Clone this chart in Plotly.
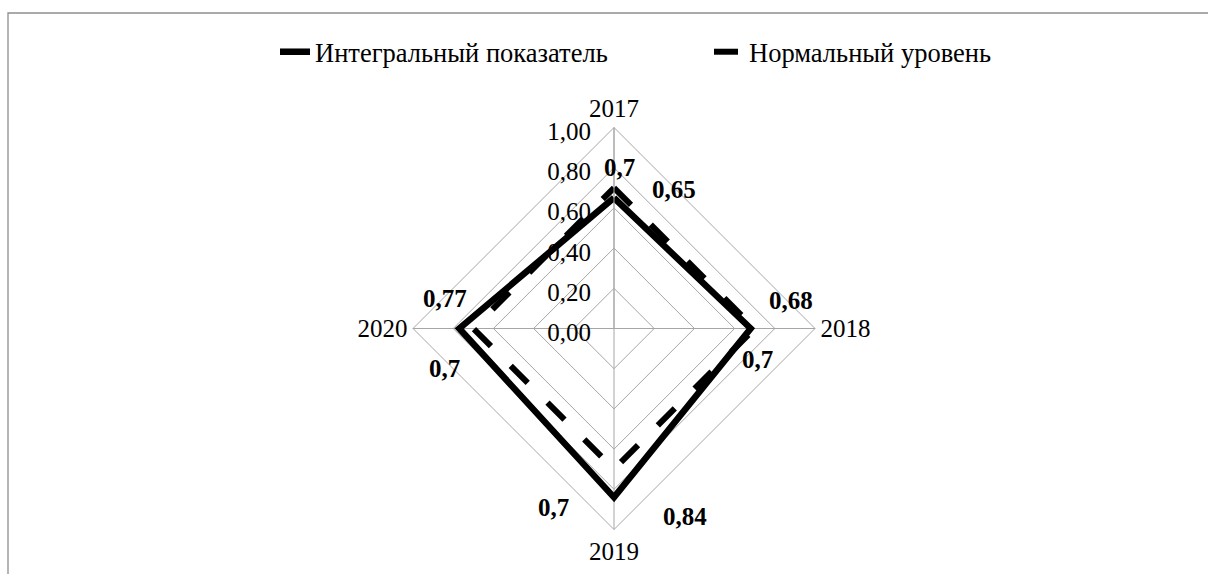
import math
import plotly.graph_objects as go

# Years on the radar axes (clockwise from the top)
years = ["2017", "2018", "2019", "2020"]
# Integral indicator per year
integral = [0.65, 0.68, 0.84, 0.77]
# Normal (reference) level
normal = [0.7, 0.7, 0.7, 0.7]
# Radial tick values
radial_ticks = [0.0, 0.2, 0.4, 0.6, 0.8, 1.0]

W, H = 1208, 574
CX, CY, R = 614, 328.5, 201  # polar centre and outer radius in px

FONT = "'Liberation Serif', 'Times New Roman', serif"
GRID = "#a6a6a6"

fig = go.Figure()

closed = years + years[:1]
fig.add_trace(go.Scatterpolar(
    r=integral + integral[:1], theta=closed, mode="lines",
    name="Интегральный показатель",
    line=dict(color="black", width=6.5),
))
fig.add_trace(go.Scatterpolar(
    r=normal + normal[:1], theta=closed, mode="lines",
    name="Нормальный уровень",
    line=dict(color="black", width=6, dash="24px,28px"),
))

# Data labels, anchored to each vertex and nudged by a pixel offset
angles = {"2017": 90, "2018": 0, "2019": -90, "2020": 180}


def vertex(year, value):
    a = math.radians(angles[year])
    px = CX + R * value * math.cos(a)
    py = CY - R * value * math.sin(a)
    return px / W, 1 - py / H


integral_offsets = [(60, -8), (40, -28), (71, 19), (-14, -30)]
normal_offsets = [(5, -20), (3, 31), (-61, 38), (-29, 40)]

annotations = []
for vals, offs in ((integral, integral_offsets), (normal, normal_offsets)):
    for year, v, (dx, dy) in zip(years, vals, offs):
        x, y = vertex(year, v)
        annotations.append(dict(
            x=x, y=y, xref="paper", yref="paper",
            text="<b>" + f"{v:g}".replace(".", ",") + "</b>",
            showarrow=False, xshift=dx, yshift=-dy,
            font=dict(family=FONT, size=25, color="black"),
            xanchor="center", yanchor="middle",
        ))

fig.update_layout(
    width=W, height=H,
    margin=dict(l=0, r=0, t=0, b=0),
    paper_bgcolor="white",
    plot_bgcolor="white",
    separators=", ",
    font=dict(family=FONT, size=25, color="black"),
    polar=dict(
        domain=dict(x=[(CX - R) / W, (CX + R) / W],
                    y=[(H - CY - R) / H, (H - CY + R) / H]),
        bgcolor="white",
        gridshape="linear",
        angularaxis=dict(
            type="category", rotation=90, direction="clockwise",
            showline=True, linecolor=GRID, linewidth=1,
            gridcolor=GRID, gridwidth=1, ticks="",
            tickfont=dict(family=FONT, size=25, color="black"),
        ),
        radialaxis=dict(
            range=[0, 1], tickvals=radial_ticks, tickformat=".2f",
            angle=90, side="counterclockwise",
            showline=True, linecolor=GRID, linewidth=1,
            gridcolor=GRID, gridwidth=1, ticks="",
            tickfont=dict(family=FONT, size=25, color="black"),
        ),
    ),
    legend=dict(
        orientation="h", x=275 / W, xanchor="left",
        y=1 - 28 / H, yanchor="top",
        font=dict(family=FONT, size=26.5, color="black"),
        entrywidth=389, bgcolor="rgba(0,0,0,0)",
    ),
    annotations=annotations,
    shapes=[dict(
        type="rect", xref="paper", yref="paper",
        x0=8 / W, x1=1.05, y0=-0.05, y1=1 - 13 / H,
        line=dict(color="#8e8e8e", width=1.3),
    )],
)

fig.write_html("out.html")
